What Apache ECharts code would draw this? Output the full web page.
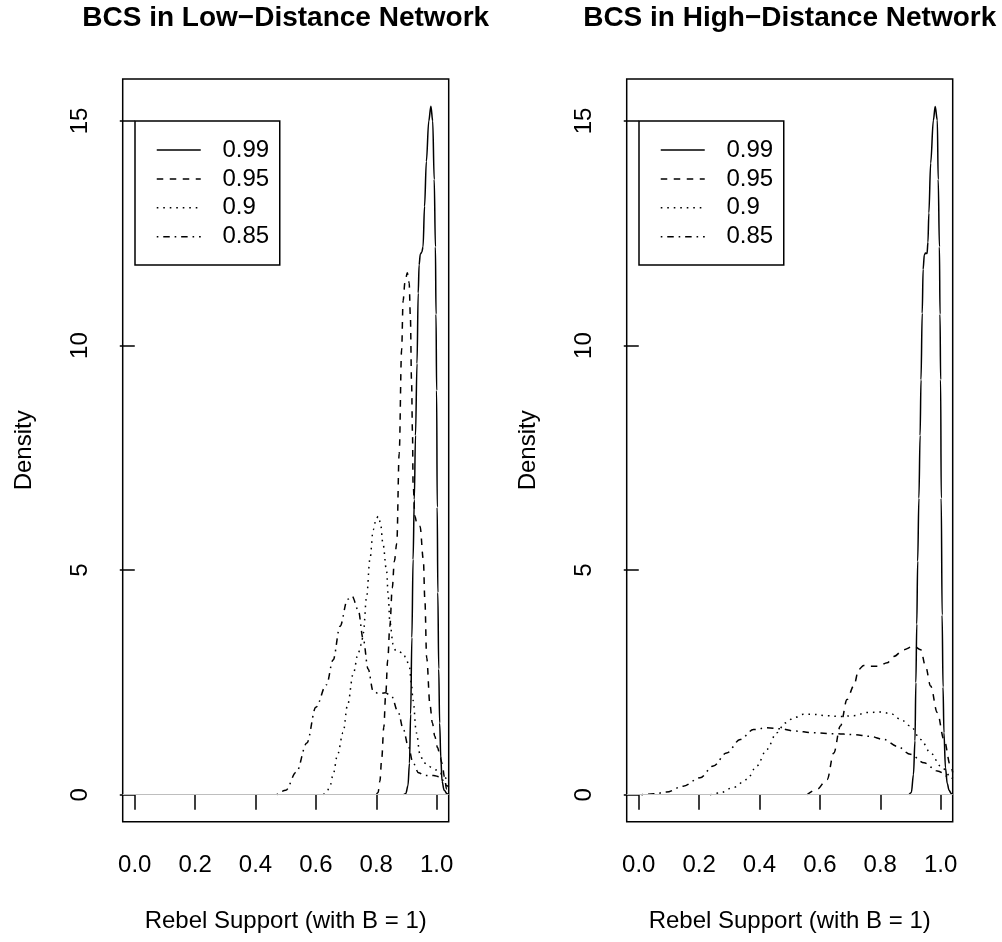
<!DOCTYPE html>
<html><head><meta charset="utf-8">
<script src="https://cdn.jsdelivr.net/npm/echarts@6/dist/echarts.min.js"></script>
<style>html,body{margin:0;padding:0;background:#fff}#c{width:1002px;height:942px}</style>
</head><body><div id="c"></div>
<script>
// ---- data ----
const seriesNames = ['0.99', '0.95', '0.9', '0.85'];
const panelTitles = ['BCS in Low\u2212Distance Network', 'BCS in High\u2212Distance Network'];
const xTicks = [0, 0.2, 0.4, 0.6, 0.8, 1.0];
const yTicks = [0, 5, 10, 15];
const xLabel = 'Rebel Support (with B = 1)';
const yLabel = 'Density';

// Low-distance network: [x, density]
const low99 = [[0.89,0],[0.898,0.03],[0.905,0.2],[0.91,0.7],[0.914,1.8],[0.918,3.5],[0.922,5.24],[0.926,6.57],[0.93,8.0],[0.935,9.6],[0.939,11.17],[0.942,11.8],[0.946,12.04],[0.951,12.08],[0.955,12.2],[0.96,13.1],[0.966,14.1],[0.974,15.0],[0.981,15.33],[0.987,15.0],[0.992,13.7],[0.996,12.2],[0.998,10.7],[1.0,9.0],[1.002,6.4],[1.004,4.5],[1.007,2.8],[1.01,1.6],[1.014,0.8],[1.018,0.3],[1.025,0.1],[1.035,0.02],[1.04,0]];
const low95 = [[0.80,0],[0.806,0.05],[0.812,0.3],[0.818,0.8],[0.825,1.5],[0.831,2.2],[0.838,3.0],[0.845,3.75],[0.853,4.6],[0.86,5.2],[0.868,5.6],[0.876,7.6],[0.884,9.9],[0.889,11.0],[0.895,11.4],[0.903,11.62],[0.909,11.4],[0.913,10.65],[0.917,9.17],[0.92,8.06],[0.922,6.94],[0.928,6.2],[0.934,6.06],[0.94,6.06],[0.945,5.98],[0.956,5.24],[0.961,4.35],[0.967,3.05],[0.978,2.0],[0.986,1.6],[0.994,1.3],[1.003,1.05],[1.011,0.88],[1.018,0.7],[1.026,0.4],[1.033,0.12],[1.04,0.03]];
const low90 = [[0.625,0],[0.635,0.05],[0.647,0.2],[0.657,0.45],[0.672,0.9],[0.69,1.38],[0.705,2.0],[0.724,2.7],[0.74,3.15],[0.751,3.35],[0.757,3.6],[0.768,4.4],[0.779,5.24],[0.79,5.9],[0.8,6.15],[0.807,6.2],[0.814,6.05],[0.822,5.6],[0.834,5.0],[0.84,4.4],[0.845,3.85],[0.856,3.35],[0.865,3.2],[0.875,3.18],[0.89,3.15],[0.9,3.0],[0.91,2.85],[0.916,2.5],[0.922,2.1],[0.933,1.38],[0.945,0.9],[0.957,0.72],[0.972,0.64],[0.99,0.58],[1.0,0.55],[1.012,0.48],[1.022,0.41],[1.04,0.28]];
const low85 = [[0.47,0],[0.5,0.1],[0.535,0.5],[0.57,1.15],[0.6,1.95],[0.635,2.45],[0.657,3.0],[0.68,3.75],[0.705,4.35],[0.72,4.42],[0.74,4.12],[0.757,3.46],[0.773,2.8],[0.79,2.3],[0.81,2.25],[0.83,2.27],[0.85,2.2],[0.873,1.83],[0.89,1.45],[0.906,1.08],[0.922,0.71],[0.94,0.49],[0.96,0.43],[0.99,0.43],[1.01,0.4],[1.035,0.2],[1.04,0.17]];

// High-distance network: [x, density]
const high99 = [[0.895,0],[0.903,0.05],[0.91,0.45],[0.915,1.2],[0.918,2.5],[0.921,3.8],[0.924,5.2],[0.928,6.6],[0.932,8.0],[0.935,9.24],[0.939,10.72],[0.942,11.7],[0.946,12.02],[0.95,12.06],[0.955,12.05],[0.958,12.3],[0.961,12.95],[0.967,14.06],[0.976,15.02],[0.982,15.32],[0.989,15.02],[0.992,13.7],[0.996,12.2],[0.998,10.7],[1.0,9.24],[1.002,6.6],[1.005,4.0],[1.008,2.4],[1.011,1.38],[1.016,0.6],[1.022,0.25],[1.028,0.1],[1.035,0.03],[1.04,0.01]];
const high95 = [[0.557,0],[0.59,0.12],[0.624,0.34],[0.646,0.93],[0.668,1.53],[0.69,2.12],[0.712,2.42],[0.729,2.79],[0.745,2.88],[0.767,2.86],[0.795,2.86],[0.823,2.94],[0.845,3.08],[0.878,3.23],[0.911,3.31],[0.934,3.23],[0.95,2.86],[0.967,2.42],[0.989,1.83],[1.011,1.23],[1.033,0.64],[1.04,0.5]];
const high90 = [[0.236,0],[0.269,0.04],[0.313,0.16],[0.358,0.34],[0.391,0.64],[0.424,1.01],[0.457,1.38],[0.485,1.6],[0.513,1.71],[0.546,1.79],[0.579,1.79],[0.624,1.76],[0.668,1.74],[0.712,1.76],[0.757,1.83],[0.801,1.84],[0.834,1.81],[0.867,1.68],[0.9,1.53],[0.934,1.23],[0.967,0.93],[1.0,0.64],[1.033,0.41],[1.04,0.37]];
const high85 = [[0.009,0],[0.05,0.02],[0.092,0.06],[0.147,0.19],[0.203,0.38],[0.247,0.64],[0.291,0.93],[0.336,1.23],[0.38,1.45],[0.424,1.49],[0.468,1.47],[0.513,1.42],[0.579,1.38],[0.646,1.36],[0.712,1.34],[0.767,1.3],[0.812,1.23],[0.856,1.08],[0.9,0.9],[0.945,0.71],[0.989,0.53],[1.033,0.38],[1.04,0.36]];

const panels = [[low99, low95, low90, low85], [high99, high95, high90, high85]];

// ---- styles ----
const FONT = 'Liberation Sans, Arial, Helvetica, sans-serif';
const dashStyles = ['solid', [6.5, 6.5], [1.6, 4.9], [1.6, 4.9, 6.5, 4.9]];
const gridLefts = [122.7, 626.7];
const gridWidth = 326;
const gridTop = 79;
const gridHeight = 742.7;
const legendLefts = [135, 639];

const chart = echarts.init(document.getElementById('c'), null, {renderer: 'canvas'});

const grids = [], xAxes = [], yAxes = [], series = [], titles = [], legends = [];
panels.forEach((curves, p) => {
  grids.push({left: gridLefts[p], top: gridTop, width: gridWidth, height: gridHeight,
    show: true, borderColor: '#000', borderWidth: 1.5, backgroundColor: 'transparent', containLabel: false});
  titles.push({text: panelTitles[p], left: gridLefts[p] + gridWidth / 2, top: 4.5, textAlign: 'center', padding: 0,
    textStyle: {fontFamily: FONT, fontSize: 28, fontWeight: 'bold', color: '#000'}});
  xAxes.push({type: 'value', gridIndex: p, min: -0.04, max: 1.04,
    name: xLabel, nameLocation: 'middle', nameGap: 88,
    nameTextStyle: {fontFamily: FONT, fontSize: 24, color: '#000'},
    axisLine: {show: false}, splitLine: {show: false},
    axisTick: {show: true, inside: false, length: 15, customValues: xTicks, lineStyle: {color: '#000', width: 1.5}},
    axisLabel: {customValues: xTicks, margin: 32, fontFamily: FONT, fontSize: 24, color: '#000', hideOverlap: false,
      formatter: v => Number(v).toFixed(1)}});
  yAxes.push({type: 'value', gridIndex: p, min: -0.6, max: 15.935,
    name: yLabel, nameLocation: 'middle', nameGap: 86,
    nameTextStyle: {fontFamily: FONT, fontSize: 24, color: '#000'},
    axisLine: {show: false}, splitLine: {show: false},
    axisTick: {show: true, inside: false, length: 15, customValues: yTicks, lineStyle: {color: '#000', width: 1.5}},
    axisLabel: {customValues: yTicks, rotate: 90, margin: 30, fontFamily: FONT, fontSize: 24, color: '#000', hideOverlap: false,
      formatter: v => String(v)}});
  curves.forEach((data, i) => {
    const s = {type: 'line', name: seriesNames[i], xAxisIndex: p, yAxisIndex: p, data: data,
      symbol: 'none', showSymbol: false, smooth: 0.35, smoothMonotone: 'x', clip: true,
      lineStyle: {color: '#000', width: 1.5, type: dashStyles[i]}, itemStyle: {color: '#000'},
      emphasis: {disabled: true}, silent: true, z: 3};
    if (i === 0) {
      s.markLine = {silent: true, symbol: ['none', 'none'], label: {show: false}, animation: false,
        lineStyle: {color: '#bebebe', width: 1, type: 'solid'}, emphasis: {disabled: true}, data: [{yAxis: 0}]};
    }
    series.push(s);
  });
  legends.push({data: seriesNames.slice(), orient: 'vertical', left: legendLefts[p], top: 121,
    padding: [17, 10.6, 16.3, 21], itemWidth: 44, itemHeight: 14, itemGap: 4.9,
    borderColor: '#000', borderWidth: 1.5, backgroundColor: '#fff', selectedMode: false,
    itemStyle: {opacity: 0, borderWidth: 0},
    lineStyle: {width: 1.5},
    textStyle: {fontFamily: FONT, fontSize: 24, color: '#000', lineHeight: 24, padding: [0, 0, 0, 16.7]}});
});

chart.setOption({
  animation: false,
  backgroundColor: '#fff',
  title: titles, grid: grids, xAxis: xAxes, yAxis: yAxes, legend: legends, series: series
});
</script></body></html>
